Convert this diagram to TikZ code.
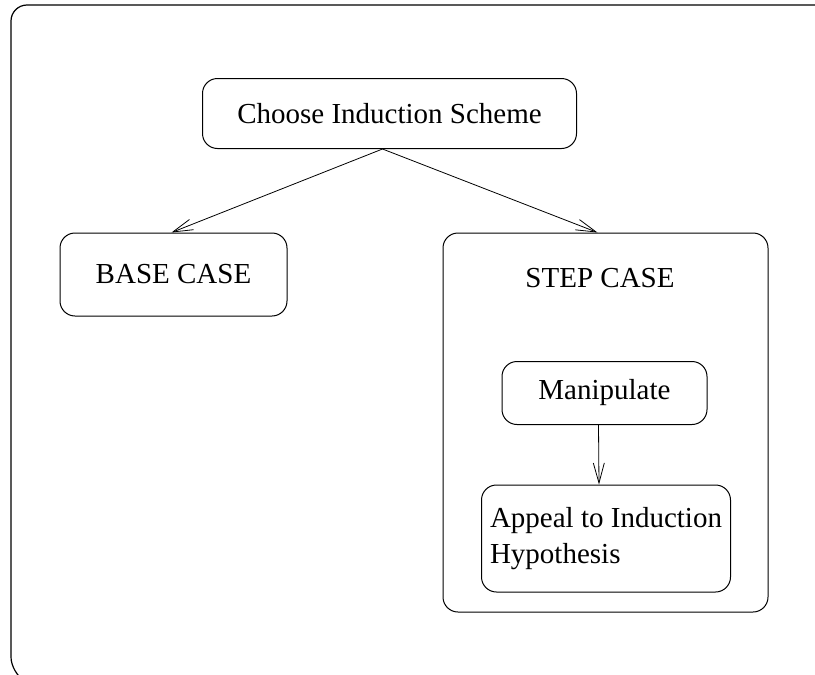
\documentclass[tikz,border=0pt]{standalone}
\usepackage{fontspec}
\setmainfont{Liberation Serif}
\usetikzlibrary{arrows.meta}
\begin{document}
\begin{tikzpicture}[x=1pt,y=-1pt,
  box/.style={draw, line width=1pt, rounded corners=15pt, inner sep=0pt},
  link/.style={line width=0.8pt, -{Straight Barb[length=20pt,width=11pt,line width=0.8pt]}},
  every node/.style={font=\fontsize{29}{36}\selectfont}]
\useasboundingbox (0,0) rectangle (815,675);
% outer frame, open to the right and bottom
\draw[line width=1.2pt, rounded corners=16pt] (815,5) -- (11,5) -- (11,673) -- (40,690);
\node[box, minimum width=374pt, minimum height=70pt] (choose) at (389.5,113.5) {Choose Induction Scheme};
\node[box, minimum width=227pt, minimum height=83pt] (base) at (173.5,274.5) {BASE CASE};
\node[box, minimum width=325pt, minimum height=379pt] (step) at (605.5,422.5) {};
\node (steplabel) at (600,278) {STEP CASE};
\node[box, minimum width=205pt, minimum height=63pt] (manip) at (604.5,393) {Manipulate};
\node[box, minimum width=249pt, minimum height=107pt, align=left] (appeal) at (606,538.5) {Appeal to Induction\\Hypothesis};
\draw[link] ([xshift=-7pt]choose.south) -- ([xshift=-2pt]base.north);
\draw[link] ([xshift=-7pt]choose.south) -- ([xshift=-8pt]step.north);
\draw[link] ([xshift=-6pt]manip.south) -- ([xshift=-7pt]appeal.north);
\end{tikzpicture}
\end{document}
